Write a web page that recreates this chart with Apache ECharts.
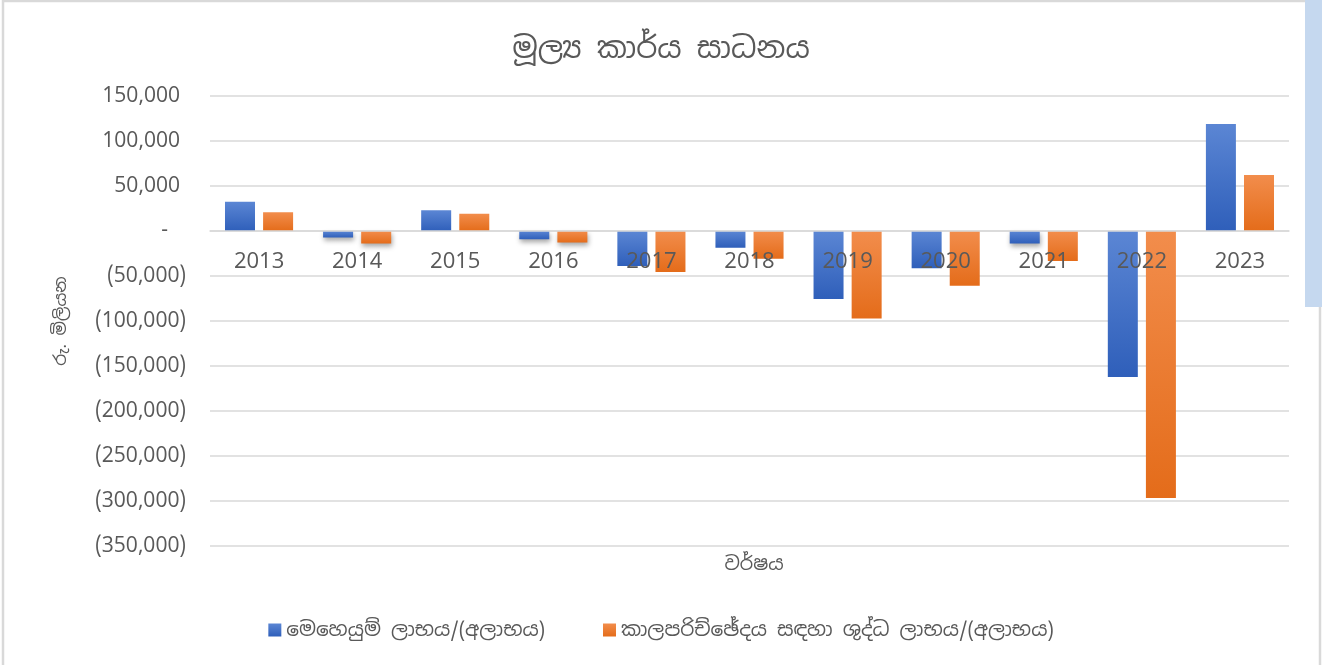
<!DOCTYPE html>
<html>
<head>
<meta charset="utf-8">
<script src="https://cdn.jsdelivr.net/npm/echarts@6/dist/echarts.min.js"></script>
<style>
html,body{margin:0;padding:0;background:#fff;}
#main{width:1322px;height:665px;}
</style>
</head>
<body>
<div id="main"></div>
<script>
// values in rupees million
var years = ['2013','2014','2015','2016','2017','2018','2019','2020','2021','2022','2023'];
var operating = [32500, -7300, 23000, -9200, -38900, -18500, -75500, -41400, -14000, -162200, 118900];
var netProfit = [20800, -14000, 19300, -12900, -45500, -30700, -97300, -60700, -33300, -296600, 62200];
var seriesNames = ['මෙහෙයුම් ලාභය/(අලාභය)', 'කාලපරිච්ඡේදය සඳහා ශුද්ධ ලාභය/(අලාභය)'];

var font = '"Noto Sans Sinhala","Iskoola Pota","Noto Sans","DejaVu Sans",sans-serif';
var grey = '#595959';
var yMin = -350000, yMax = 150000;
var gridTop = 96, gridBottom = 119, chartH = 665;

function grad(top, bottom) {
	return new echarts.graphic.LinearGradient(0, 0, 0, 1, [
		{offset: 0, color: top},
		{offset: 1, color: bottom}
	]);
}

// the category axis sits on the zero line (Excel style)
var plotH = chartH - gridTop - gridBottom;
var zeroOffset = -plotH * (0 - yMin) / (yMax - yMin);

var myChart = echarts.init(document.getElementById('main'));

var option = {
	backgroundColor: '#fff',
	textStyle: {fontFamily: font},
	title: [
		{
			text: 'මූල්‍ය කාර්ය සාධනය',
			left: 'center',
			top: 30,
			textStyle: {fontSize: 30, fontWeight: 'normal', color: grey, fontFamily: font}
		},
		{
			text: 'වර්ෂය',
			left: 749,
			textAlign: 'center',
			top: 550,
			textStyle: {fontSize: 19, fontWeight: 'normal', color: grey, fontFamily: font}
		}
	],
	legend: {
		data: seriesNames,
		bottom: 20,
		left: 'center',
		itemWidth: 13,
		itemHeight: 13,
		itemGap: 58,
		icon: 'rect',
		textStyle: {fontSize: 20, color: grey, fontFamily: font}
	},
	grid: {
		left: 210,
		right: 33,
		top: gridTop,
		bottom: gridBottom
	},
	xAxis: {
		type: 'category',
		data: years,
		offset: zeroOffset,
		axisLine: {onZero: false, lineStyle: {color: '#d9d9d9', width: 1.5}},
		axisTick: {show: false},
		axisLabel: {fontSize: 22, color: grey, margin: 20, fontFamily: font},
		z: 10
	},
	yAxis: {
		type: 'value',
		min: yMin,
		max: yMax,
		interval: 50000,
		name: 'රු. මිලියන',
		nameLocation: 'middle',
		nameGap: 140,
		nameTextStyle: {fontSize: 17, color: grey, fontFamily: font},
		axisLine: {show: false},
		axisTick: {show: false},
		splitLine: {lineStyle: {color: '#d9d9d9', width: 1.5}},
		axisLabel: {
			margin: 24,
			fontFamily: font,
			formatter: function (v) {
				var s = Math.abs(v).toLocaleString('en-US');
				if (v < 0) return '{n|(' + s + ')}';
				if (v === 0) return '{d|-}';
				return '{p|' + s + '}';
			},
			rich: {
				n: {fontSize: 21, color: grey, fontFamily: font},
				p: {fontSize: 21, color: grey, fontFamily: font, padding: [0, 6, 0, 0]},
				d: {fontSize: 21, color: grey, fontFamily: font, padding: [0, 18, 0, 0]}
			}
		}
	},
	series: [
		{
			name: seriesNames[0],
			type: 'bar',
			data: operating,
			barWidth: 30,
			barGap: '27%',
			itemStyle: {
				color: grad('#5b86d4', '#2f5fba'),
				shadowColor: 'rgba(0,0,0,0.35)',
				shadowBlur: 5,
				shadowOffsetX: 1,
				shadowOffsetY: 3
			}
		},
		{
			name: seriesNames[1],
			type: 'bar',
			data: netProfit,
			barWidth: 30,
			itemStyle: {
				color: grad('#f28d4c', '#e46c1a'),
				shadowColor: 'rgba(0,0,0,0.35)',
				shadowBlur: 5,
				shadowOffsetX: 1,
				shadowOffsetY: 3
			}
		}
	],
	graphic: [
		// chart frame of the screenshot
		{type: 'rect', shape: {x: 3, y: 1, width: 1317, height: 670}, style: {fill: 'none', stroke: '#d9d9d9', lineWidth: 2.5}, silent: true},
		{type: 'rect', shape: {x: 1305, y: 0, width: 17, height: 307}, style: {fill: '#c5d8ef'}, silent: true}
	]
};

myChart.setOption(option);
window.addEventListener('resize', function () {
	myChart.resize();
});
</script>
</body>
</html>
